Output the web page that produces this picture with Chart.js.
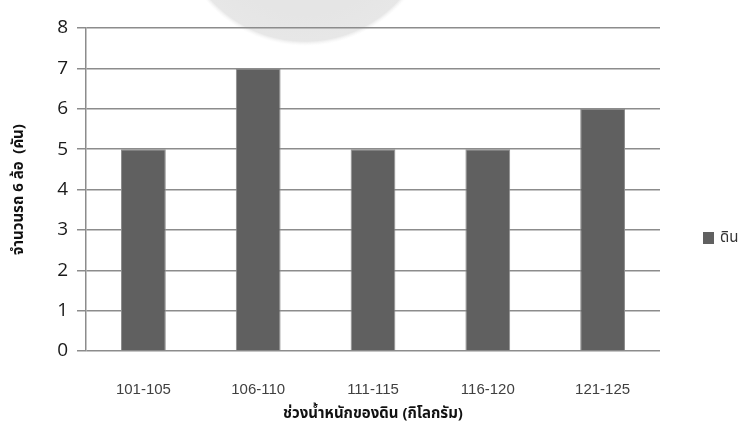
<!DOCTYPE html>
<html>
<head>
<meta charset="utf-8">
<script src="https://cdn.jsdelivr.net/npm/chart.js@4"></script>
<style>
  html, body { margin: 0; padding: 0; background: #fff; }
  #wrap { width: 747px; height: 431px; }
</style>
</head>
<body>
<div id="wrap"><canvas id="grafico"></canvas></div>
<script>
// ข้อมูลของกราฟ
const categorias = ['101-105', '106-110', '111-115', '116-120', '121-125'];
const valores = [5, 7, 5, 5, 6];
const nomeSerie = 'ดิน';
const tituloX = 'ช่วงน้ำหนักของดิน (กิโลกรัม)';
const tituloY = 'จำนวนรถ 6 ล้อ  (คัน)';

const fonteThai = '"Noto Sans Thai", "Leelawadee UI", Tahoma, "DejaVu Sans", sans-serif';

// marca d'água cinza no topo (fundo)
const marcaDagua = {
    id: 'marcaDagua',
    beforeDraw(chart) {
        const ctx = chart.ctx;
        ctx.save();
        const g = ctx.createRadialGradient(305, -86, 100, 305, -86, 132);
        g.addColorStop(0, 'rgba(229,229,229,1)');
        g.addColorStop(0.85, 'rgba(231,231,231,1)');
        g.addColorStop(1, 'rgba(245,245,245,0)');
        ctx.fillStyle = g;
        ctx.beginPath();
        ctx.arc(305, -86, 132, 0, Math.PI * 2);
        ctx.fill();
        ctx.restore();
    }
};

// legenda desenhada à direita da área do gráfico
const legendaLateral = {
    id: 'legendaLateral',
    afterDraw(chart) {
        const ctx = chart.ctx;
        const ds = chart.data.datasets[0];
        const x = chart.chartArea.right + 43;
        const y = 238;
        ctx.save();
        ctx.fillStyle = ds.backgroundColor;
        ctx.fillRect(x, y - 6, 11, 12);
        ctx.fillStyle = '#333';
        ctx.font = '15px ' + fonteThai;
        ctx.textBaseline = 'middle';
        ctx.fillText(ds.label, x + 17, y + 1);
        ctx.restore();
    }
};

const config = {
    type: 'bar',
    data: {
        labels: categorias,
        datasets: [{
            label: nomeSerie,
            data: valores,
            backgroundColor: '#606060',
            borderColor: '#8c8c8c',
            borderWidth: 1,
            categoryPercentage: 1,
            barPercentage: 0.39
        }]
    },
    options: {
        responsive: false,
        animation: false,
        layout: { padding: { top: 28, right: 87, left: 0, bottom: 0 } },
        plugins: {
            legend: { display: false },
            tooltip: { enabled: false }
        },
        scales: {
            x: {
                grid: { display: false, drawTicks: false },
                border: { display: false },
                ticks: {
                    color: '#404040',
                    font: { family: '"Liberation Sans", Arial, sans-serif', size: 15 },
                    padding: 30,
                    maxRotation: 0
                },
                title: {
                    display: true,
                    text: tituloX,
                    color: '#111',
                    font: { family: fonteThai, size: 15, weight: 'bold' },
                    padding: { top: 4, bottom: 7 }
                },
                afterFit: s => { s.height = 80; }
            },
            y: {
                min: 0,
                max: 8,
                ticks: {
                    stepSize: 1,
                    color: '#1a1a1a',
                    font: { family: '"Open Sans", sans-serif', size: 19 },
                    padding: 9
                },
                grid: {
                    color: '#8c8c8c',
                    lineWidth: 1.5,
                    tickLength: 9
                },
                border: { color: '#8c8c8c', width: 1.5 },
                title: {
                    display: true,
                    text: tituloY,
                    color: '#111',
                    font: { family: fonteThai, size: 15, weight: 'bold' },
                    padding: { top: 11, bottom: 0 }
                },
                afterFit: s => { s.width = 86; }
            }
        }
    },
    plugins: [marcaDagua, legendaLateral]
};

const canvas = document.getElementById('grafico');
canvas.width = 747;
canvas.height = 431;
new Chart(canvas.getContext('2d'), config);
</script>
</body>
</html>
